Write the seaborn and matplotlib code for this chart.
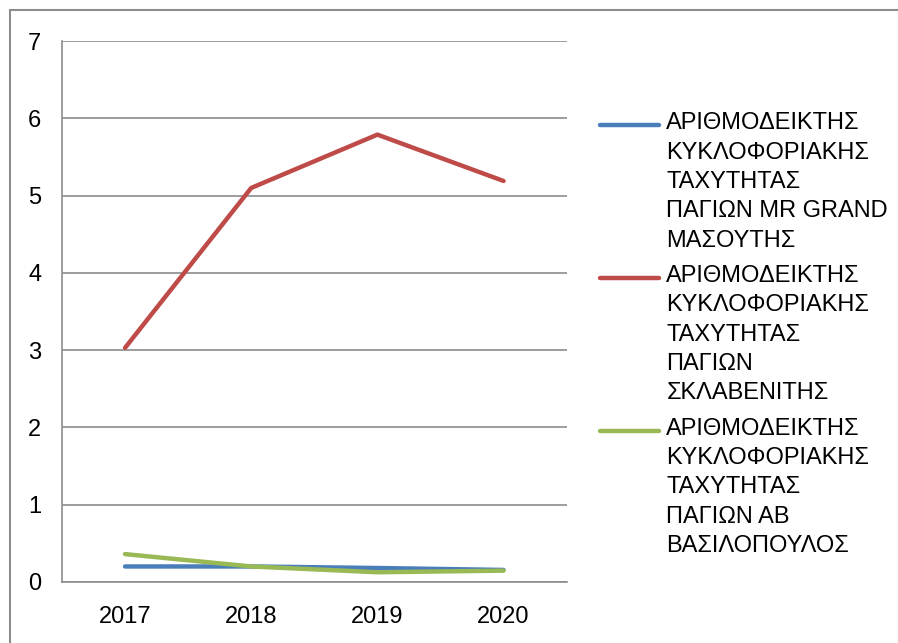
import matplotlib
matplotlib.use("Agg")
import matplotlib.pyplot as plt
import seaborn as sns
import pandas as pd
from matplotlib.patches import Rectangle

years = ["2017", "2018", "2019", "2020"]
mr_grand = [0.20, 0.20, 0.18, 0.155]
sklavenitis = [3.03, 5.10, 5.79, 5.19]
ab_vasilopoulos = [0.36, 0.20, 0.125, 0.146]

labels = [
    "ΑΡΙΘΜΟΔΕΙΚΤΗΣ\nΚΥΚΛΟΦΟΡΙΑΚΗΣ\nΤΑΧΥΤΗΤΑΣ\nΠΑΓΙΩΝ MR GRAND\nΜΑΣΟΥΤΗΣ",
    "ΑΡΙΘΜΟΔΕΙΚΤΗΣ\nΚΥΚΛΟΦΟΡΙΑΚΗΣ\nΤΑΧΥΤΗΤΑΣ\nΠΑΓΙΩΝ\nΣΚΛΑΒΕΝΙΤΗΣ",
    "ΑΡΙΘΜΟΔΕΙΚΤΗΣ\nΚΥΚΛΟΦΟΡΙΑΚΗΣ\nΤΑΧΥΤΗΤΑΣ\nΠΑΓΙΩΝ ΑΒ\nΒΑΣΙΛΟΠΟΥΛΟΣ",
]
colors = ["#4A7EBB", "#BE4B48", "#98B954"]

rows = []
for lab, vals in zip(labels, [mr_grand, sklavenitis, ab_vasilopoulos]):
    for i, v in enumerate(vals):
        rows.append({"pos": i, "year": years[i], "value": v, "series": lab})
df = pd.DataFrame(rows)

sns.set_style("white")
plt.rcParams["font.family"] = ["Liberation Sans", "DejaVu Sans"]
plt.rcParams["text.color"] = "black"
plt.rcParams["xtick.color"] = "black"
plt.rcParams["ytick.color"] = "black"

fig = plt.figure(figsize=(8.98, 6.43), dpi=100)
ax = fig.add_axes([0.069, 0.095, 0.562, 0.841])

sns.lineplot(data=df, x="pos", y="value", hue="series", palette=colors,
             linewidth=3.2, ax=ax, legend=True)

gray = "#8C8C8C"
ax.set_xlim(-0.5, 3.5)
ax.set_ylim(0, 7)
ax.set_yticks(range(0, 8))
ax.set_xticks(range(4))
ax.set_xticklabels(years)
ax.set_xticks([-0.5, 0.5, 1.5, 2.5, 3.5], minor=True)
ax.tick_params(axis="x", which="major", length=0, labelsize=17, pad=17)
ax.tick_params(axis="x", which="minor", length=6, color=gray, width=1.2, direction="out")
ax.tick_params(axis="y", length=6, color=gray, labelcolor="black", width=1.2,
               labelsize=17, pad=9, direction="out")
ax.yaxis.grid(True, color=gray, linewidth=1.2)
ax.set_axisbelow(True)
ax.set_xlabel("")
ax.set_ylabel("")
for side in ["top", "right"]:
    ax.spines[side].set_visible(False)
for side in ["left", "bottom"]:
    ax.spines[side].set_color(gray)
    ax.spines[side].set_linewidth(1.2)

handles, labs = ax.get_legend_handles_labels()
leg = ax.legend(handles, labs, loc="upper left", bbox_to_anchor=(0.658, 0.84),
                bbox_transform=fig.transFigure, frameon=False, fontsize=17,
                handlelength=2.5, handletextpad=0.3, labelspacing=0.57,
                borderaxespad=0)
for t in leg.get_texts():
    t.set_linespacing(1.43)
    t.set_color("black")
# put each legend stroke level with the first line of its label
for ln in leg.get_lines():
    y = ln.get_ydata()
    ln.set_ydata([v + 41 for v in y])

fig.patches.append(Rectangle((0.011, -0.01), 0.99, 0.995, transform=fig.transFigure,
                             fill=False, edgecolor=gray, linewidth=1.5))

fig.savefig("out.png", dpi=100)
